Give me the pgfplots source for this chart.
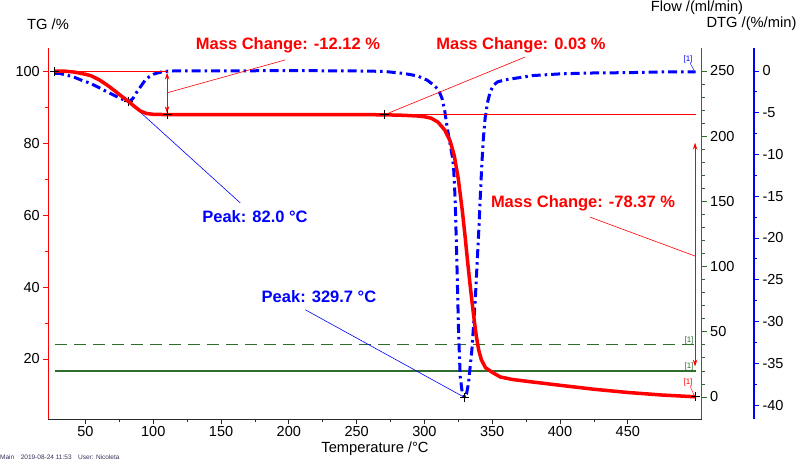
\documentclass[border=0pt]{standalone}
\usepackage{fontspec}
\setmainfont{Liberation Sans}
\usepackage{pgfplots}
\pgfplotsset{compat=1.18}
\usetikzlibrary{arrows.meta}
\definecolor{tgred}{RGB}{255,0,0}
\definecolor{dtgblue}{RGB}{0,0,255}
\definecolor{flowgreen}{RGB}{45,110,45}
\definecolor{axgray}{RGB}{40,40,40}
\definecolor{foot}{RGB}{50,50,90}
\pgfplotsset{base/.style={scale only axis, width=653.4pt, height=371.3pt,
  at={(48.3pt,41.7pt)}, anchor=south west, xmin=22.6, xmax=504.5,
  /pgf/number format/assume math mode=true,
  tick label style={font=\fontsize{14.5}{17}\selectfont, text=black},
  tick align=outside, major tick length=5pt, minor tick length=3pt}}
\pgfplotstableread{
T TG
27.5 100
35 99.95
42 99.7
50 99.1
54 98.7
60 97.6
66 96.1
72 94.4
77 92.9
82 91.5
86 90.2
90.5 88.9
95 88.2
100 87.97
110 87.9
150 87.89
200 87.88
250 87.87
270 87.85
285 87.7
295 87.5
300 87.3
305 86.9
310 85.8
315 83.6
319 80.5
322 76.5
325 70
328 61
330 54
332 46.5
334 39.5
336 33
338 27
340 22.5
342 19.8
345 17.6
350 16.3
356 15.0
365 14.3
380 13.6
400 12.7
425 11.6
450 10.7
475 10.0
500 9.5
}\tgdata
\pgfplotstableread{
T DTG
27.5 -0.3
31 -0.3
36 -0.5
41 -0.7
47 -1.1
54 -1.5
60 -2.0
66 -2.5
71 -2.9
76 -3.3
82 -3.7
85 -3.3
88 -2.5
91 -1.8
94 -1.1
97 -0.7
100 -0.4
104 -0.2
108 -0.05
115 0
150 0
200 0.05
250 0
270 -0.05
285 -0.3
295 -0.6
302 -1.1
307 -1.7
310.5 -2.3
313 -3.3
315 -4.8
317 -7
319 -8.8
320.5 -10.2
321.5 -11.5
322.7 -15.5
324 -23.4
325.2 -31.4
326.4 -36.6
327.8 -38.4
329.7 -39.1
331 -38.7
332.5 -37.4
335 -33.4
337.5 -27.4
340 -19.4
341.5 -14
342.4 -11
343.5 -8
344.8 -5.6
346.5 -3.8
348.5 -2.5
351 -1.7
354 -1.3
360 -1.05
366 -0.9
380 -0.55
400 -0.35
420 -0.25
450 -0.2
480 -0.1
500 -0.1
}\dtgdata
\begin{document}
\begin{tikzpicture}
\useasboundingbox (0,0) rectangle (800pt,461pt);
% Flow axis (green, right)
\begin{axis}[base, axis x line=none, axis y line*=right,
  ymin=-17.1, ymax=267.6, ytick={0,50,...,250}, minor y tick num=4,
  y axis line style={flowgreen, line width=1.2pt, -},
  ytick style={flowgreen, line width=0.8pt}]
\addplot[flowgreen, line width=1.3pt, dash pattern=on 12pt off 7pt] coordinates {(27.5,40) (500,40)};
\addplot[flowgreen, line width=1.3pt] coordinates {(27.5,20) (500,20)};
\end{axis}
% DTG data
\begin{axis}[base, hide axis, ymin=-41.71, ymax=2.75]
\addplot[dtgblue, line width=3pt, dash pattern=on 9pt off 4pt on 2.5pt off 4pt] table[x=T,y=DTG] {\dtgdata};
\draw[dtgblue, line width=0.6pt] (axis cs:82,-3.7) -- (axis cs:164.2,-15.8);
\draw[dtgblue, line width=0.6pt] (axis cs:329.7,-39.1) -- (axis cs:212.2,-28.6);
\addplot[only marks, mark=+, mark size=4.5pt, black, line width=1pt] coordinates {(82,-3.7) (329.7,-39.1)};
\end{axis}
% DTG scale (blue, offset)
\begin{axis}[scale only axis, width=1pt, height=371.3pt, at={(753pt,41.7pt)}, anchor=south west,
  xmin=0, xmax=1, axis x line=none, axis y line*=right,
  ymin=-41.71, ymax=2.75, ytick={-40,-35,...,0}, minor y tick num=1,
  /pgf/number format/assume math mode=true,
  tick label style={font=\fontsize{14.5}{17}\selectfont, text=black},
  tick align=outside, major tick length=5pt, minor tick length=3pt,
  y axis line style={dtgblue, line width=1.2pt, -},
  ytick style={dtgblue, line width=0.8pt}]
\end{axis}
% TG axis (red, left)
\begin{axis}[base, axis x line*=bottom, axis y line*=left,
  ymin=3.25, ymax=106.4, ytick={20,40,...,100}, minor y tick num=1,
  xtick={50,100,...,450}, minor x tick num=1,
  xticklabel style={yshift=1.5pt},
  y axis line style={tgred, line width=1.2pt, -},
  x axis line style={axgray, line width=1pt, -},
  ytick style={tgred, line width=0.8pt},
  xtick style={axgray, line width=0.8pt}]
\addplot[tgred, line width=0.8pt] coordinates {(27.5,100) (110.2,100)};
\addplot[tgred, line width=0.8pt] coordinates {(110.2,87.9) (500,87.9)};
\draw[tgred, line width=0.8pt, {Stealth[length=7pt,width=4.5pt]}-{Stealth[length=7pt,width=4.5pt]}] (axis cs:110.2,99.6) -- (axis cs:110.2,88.3);
\draw[tgred, line width=0.8pt, {Stealth[length=7pt,width=4.5pt]}-{Stealth[length=7pt,width=4.5pt]}] (axis cs:499.6,80.1) -- (axis cs:499.6,17.9);
\draw[tgred, line width=0.6pt] (axis cs:110.2,93.95) -- (axis cs:197.4,103.1);
\draw[tgred, line width=0.6pt] (axis cs:270.5,87.85) -- (axis cs:374.3,103.9);
\draw[tgred, line width=0.6pt] (axis cs:499.6,48.6) -- (axis cs:422.2,59.4);
\addplot[tgred, line width=3.5pt] table[x=T,y=TG] {\tgdata};
\addplot[only marks, mark=+, mark size=4.5pt, black, line width=1pt] coordinates {(27.5,100) (110.2,87.9) (270.5,87.85) (500,9.5)};
\end{axis}
% texts
\begin{scope}[x=1pt, y=-1pt, yshift=461pt]
\node[font=\fontsize{14.7}{17}\selectfont] at (48,24) {TG /\%};
\node[font=\fontsize{14.7}{17}\selectfont] at (697,8) {Flow /(ml/min)};
\node[font=\fontsize{14.7}{17}\selectfont] at (751.5,24) {DTG /(\%/min)};
\node[font=\fontsize{14.7}{17}\selectfont, inner sep=0pt] at (375,448.5) {Temperature /°C};
\node[anchor=west, inner sep=0pt, font=\fontsize{6.5}{8}\selectfont, text=foot] at (0,457) {Main\quad 2019-08-24 11:53\quad User: Nicoleta};
\begin{scope}[font=\fontsize{16.5}{19}\selectfont\bfseries]
\node[text=tgred] at (288,45) {Mass Change: -12.12 \%};
\node[text=tgred] at (521,45) {Mass Change: 0.03 \%};
\node[text=dtgblue] at (255,217) {Peak: 82.0 °C};
\node[text=tgred] at (583,203) {Mass Change: -78.37 \%};
\node[text=dtgblue] at (319,297) {Peak: 329.7 °C};
\end{scope}
\begin{scope}[font=\fontsize{8}{9}\selectfont, inner sep=0pt]
\node[text=flowgreen] at (689,340) {[1]};
\node[text=flowgreen] at (689,366) {[1]};
\node[text=tgred] at (688,382) {[1]};
\node[text=dtgblue] at (688,59) {[1]};
\end{scope}
\draw[tgred, line width=0.4pt] (690,386) -- (694,395);
\draw[dtgblue, line width=0.4pt] (690,63) -- (694,70);
\end{scope}
\end{tikzpicture}
\end{document}
